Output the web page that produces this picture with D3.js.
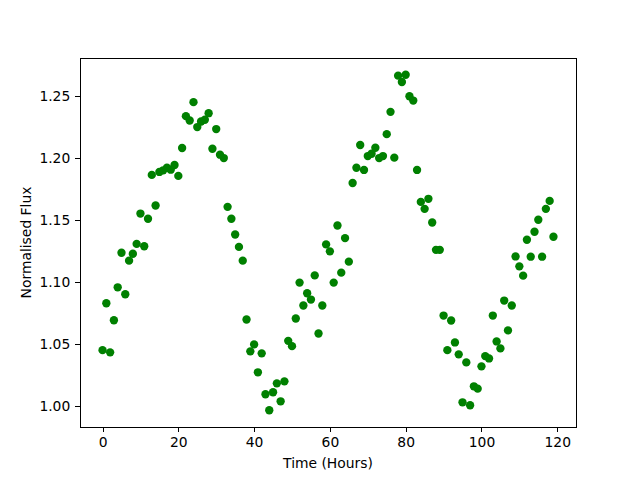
<!DOCTYPE html>
<html>
<head>
<meta charset="utf-8">
<script src="https://cdn.jsdelivr.net/npm/d3@7"></script>
<style>
  body { margin: 0; background: #fff; }
  svg text { font-family: "DejaVu Sans", sans-serif; }
</style>
</head>
<body>
<svg id="chart" width="640" height="480"></svg>
<script>
const timeHours = d3.range(0, 120);
const flux = [
  1.0448, 1.0826, 1.0430, 1.0689, 1.0955, 1.1234, 1.0899, 1.1170, 1.1226, 1.1305,
  1.1550, 1.1286, 1.1508, 1.1862, 1.1615, 1.1886, 1.1899, 1.1920, 1.1904, 1.1942,
  1.1854, 1.2079, 1.2336, 1.2301, 1.2449, 1.2248, 1.2293, 1.2307, 1.2360, 1.2073,
  1.2232, 1.2025, 1.1998, 1.1604, 1.1508, 1.1381, 1.1281, 1.1170, 1.0695, 1.0438,
  1.0494, 1.0269, 1.0422, 1.0092, 0.9963, 1.0108, 1.0180, 1.0035, 1.0196, 1.0523,
  1.0480, 1.0703, 1.0993, 1.0808, 1.0907, 1.0856, 1.1051, 1.0582, 1.0808, 1.1301,
  1.1245, 1.0993, 1.1454, 1.1073, 1.1352, 1.1162, 1.1797, 1.1920, 1.2103, 1.1902,
  1.2014, 1.2033, 1.2081, 1.1998, 1.2014, 1.2191, 1.2371, 1.2001, 1.2663, 1.2612,
  1.2670, 1.2497, 1.2462, 1.1902, 1.1644, 1.1588, 1.1669, 1.1478, 1.1257, 1.1257,
  1.0727, 1.0448, 1.0687, 1.0510, 1.0414, 1.0027, 1.0349, 1.0003, 1.0156, 1.0137,
  1.0317, 1.0400, 1.0381, 1.0727, 1.0518, 1.0462, 1.0848, 1.0607, 1.0808, 1.1204,
  1.1124, 1.1049, 1.1339, 1.1202, 1.1403, 1.1500, 1.1202, 1.1588, 1.1652, 1.1363
];
const xTicks = [0, 20, 40, 60, 80, 100, 120];
const yTicks = [1.00, 1.05, 1.10, 1.15, 1.20, 1.25];
const xLabel = "Time (Hours)";
const yLabel = "Normalised Flux";

const svg = d3.select("#chart");
const L = 80, R = 576, T = 58, B = 427;
const fs = 13.89, tickLen = 4.86, pad = 4.86;

function padded(ext) {
  const r = ext[1] - ext[0];
  return [ext[0] - 0.05 * r, ext[1] + 0.05 * r];
}
const x = d3.scaleLinear().domain(padded(d3.extent(timeHours))).range([L, R]);
const y = d3.scaleLinear().domain(padded(d3.extent(flux))).range([B, T]);

const data = timeHours.map((t, i) => ({ t, f: flux[i] }));

svg.append("rect").attr("x", 0).attr("y", 0).attr("width", 640).attr("height", 480).attr("fill", "#fff");

const gp = svg.append("g");
gp.selectAll("circle").data(data).enter().append("circle")
  .attr("cx", d => x(d.t)).attr("cy", d => y(d.f)).attr("r", 4.17)
  .attr("fill", "#008000");

const xAxis = svg.append("g").attr("transform", `translate(0,${B})`)
  .call(d3.axisBottom(x).tickValues(xTicks).tickSize(tickLen).tickPadding(pad).tickFormat(d3.format("d")));
const yAxis = svg.append("g").attr("transform", `translate(${L},0)`)
  .call(d3.axisLeft(y).tickValues(yTicks).tickSize(tickLen).tickPadding(pad).tickFormat(d3.format(".2f")));
[xAxis, yAxis].forEach(g => {
  g.select(".domain").remove();
  g.selectAll(".tick line").attr("stroke", "#000").attr("stroke-width", 1)
    .attr("shape-rendering", "crispEdges");
  g.selectAll(".tick text").attr("font-size", fs).attr("fill", "#000")
    .attr("font-family", "DejaVu Sans, sans-serif");
});

svg.append("rect").attr("x", L).attr("y", T).attr("width", R - L).attr("height", B - T)
  .attr("fill", "none").attr("stroke", "#000").attr("stroke-width", 1)
  .attr("shape-rendering", "crispEdges");

svg.append("text").attr("x", (L + R) / 2).attr("y", 468).attr("text-anchor", "middle")
  .attr("font-size", fs).attr("fill", "#000").text(xLabel);
svg.append("text").attr("transform", `translate(31,${(T + B) / 2}) rotate(-90)`)
  .attr("text-anchor", "middle").attr("font-size", fs).attr("fill", "#000").text(yLabel);
</script>
</body>
</html>
